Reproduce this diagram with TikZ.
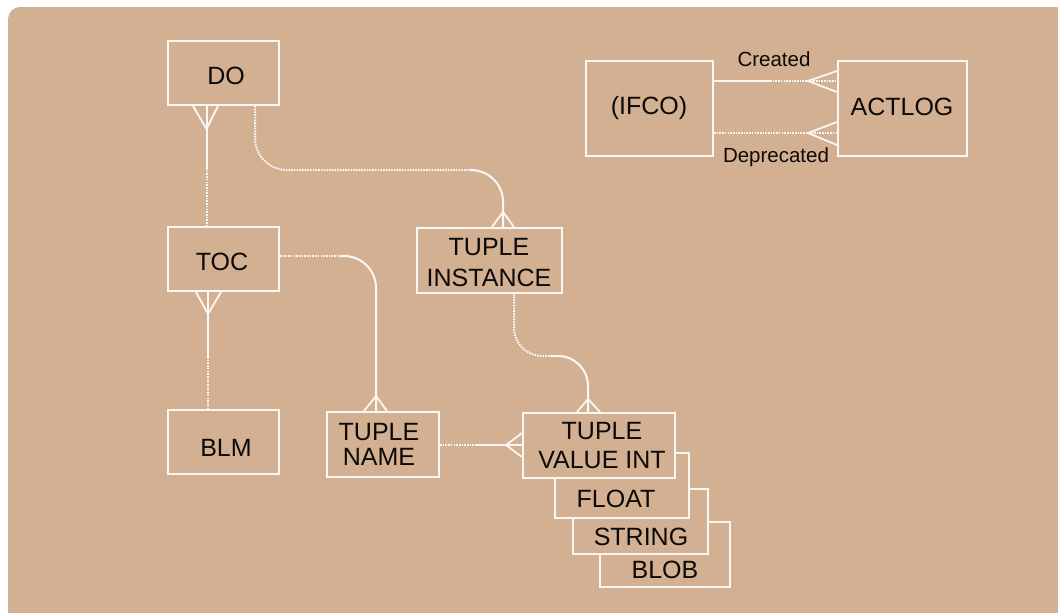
\documentclass[tikz,border=0pt]{standalone}
\usepackage{fontspec}
\setmainfont{Liberation Sans}
\usetikzlibrary{calc}
\definecolor{bgtan}{RGB}{212,176,147}
\definecolor{lineW}{RGB}{250,248,244}
\definecolor{ink}{RGB}{12,10,8}
\begin{document}
\begin{tikzpicture}[x=1pt,y=-1pt,
  box/.style={draw=lineW, line width=2pt, fill=bgtan, inner sep=0pt, rectangle},
  lbl/.style={text=ink, font=\fontsize{25}{29}\selectfont, inner sep=0pt, align=center},
  small/.style={text=ink, font=\fontsize{20.5}{24}\selectfont, inner sep=0pt},
  solidc/.style={draw=lineW, line width=2pt},
  dotc/.style={draw=lineW, line width=2pt, dash pattern=on 1.6pt off 1.1pt},
  crow/.style={draw=lineW, line width=1.8pt, line join=miter}]
\useasboundingbox (0,0) rectangle (1058,613);
\fill[bgtan, rounded corners=12pt] (8,7) rectangle (1075,630);

% boxes
\node[box, minimum width=111pt, minimum height=64pt] (DO) at (223.5,73) {};
\node[box, minimum width=111pt, minimum height=64pt] (TOC) at (223.5,259) {};
\node[box, minimum width=111pt, minimum height=64pt] (BLM) at (223.5,442) {};
\node[box, minimum width=145pt, minimum height=65pt] (TI) at (489.5,260.5) {};
\node[box, minimum width=112pt, minimum height=65pt] (TN) at (383,444.5) {};
\node[box, minimum width=127pt, minimum height=95pt] (IFCO) at (649.5,108.5) {};
\node[box, minimum width=129pt, minimum height=95pt] (ACT) at (902.5,108.5) {};
\node[box, minimum width=130pt, minimum height=65pt] (BLOB) at (665,554.5) {};
\node[box, minimum width=135pt, minimum height=65pt] (STR) at (640.5,521.5) {};
\node[box, minimum width=134pt, minimum height=65pt] (FLT) at (622,485.5) {};
\node[box, minimum width=152pt, minimum height=65pt] (TVI) at (599,445.5) {};

% texts
\node[lbl] (DOt) at (226,76) {DO};
\node[lbl] (TOCt) at (222,262) {TOC};
\node[lbl] (BLMt) at (226,448) {BLM};
\node[lbl, font=\fontsize{25}{31}\selectfont] (TIt) at (489,262.5) {TUPLE\\INSTANCE};
\node[lbl, font=\fontsize{25}{25}\selectfont] (TNt) at (379,444.5) {TUPLE\\NAME};
\node[lbl] (TVIt) at (602,445.5) {TUPLE\\VALUE INT};
\node[lbl] (FLTt) at (616,499) {FLOAT};
\node[lbl] (STRt) at (641,537) {STRING};
\node[lbl] (BLOBt) at (665,570) {BLOB};
\node[lbl] (IFCOt) at (649,108) {(IFCO)};
\node[lbl] (ACTt) at (902,107) {ACTLOG};

% DO -- TOC
\coordinate (c1) at (207,168);
\draw[solidc] ($(DO.south)+(-16.5,0)$) -- (c1);
\draw[dotc] (c1) -- ($(TOC.north)+(-16.5,0)$);
\draw[crow] ($(DO.south)+(-30.5,0)$) -- ($(DO.south)+(-17,23)$) -- ($(DO.south)+(-5.5,0)$);

% TOC -- BLM
\coordinate (c2) at (208,357);
\draw[solidc] ($(TOC.south)+(-15.5,0)$) -- (c2);
\draw[dotc] (c2) -- ($(BLM.north)+(-15.5,0)$);
\draw[crow] ($(TOC.south)+(-27.5,0)$) -- ($(TOC.south)+(-15.5,22)$) -- ($(TOC.south)+(-2.5,0)$);

% DO -- TUPLE INSTANCE
\coordinate (k1) at (470,170);
\draw[dotc, rounded corners=32pt] ($(DO.south)+(31.5,0)$) |- (k1);
\draw[solidc, rounded corners=32pt] (k1) -| ($(TI.north)+(13.5,0)$);
\draw[crow] ($(TI.north)+(2.5,0)$) -- ($(TI.north)+(13.5,-15)$) -- ($(TI.north)+(24.5,0)$);

% TOC -- TUPLE NAME
\coordinate (k2) at (340,256);
\draw[dotc] ($(TOC.east)+(0,-3)$) -- (k2);
\draw[solidc, rounded corners=32pt] (k2) -| ($(TN.north)+(-7,0)$);
\draw[crow] ($(TN.north)+(-19,0)$) -- ($(TN.north)+(-7,-15)$) -- ($(TN.north)+(4,0)$);

% TUPLE INSTANCE -- TUPLE VALUE INT
\coordinate (k3) at (550,356);
\draw[dotc, rounded corners=28pt] ($(TI.south)+(24.5,0)$) |- (k3);
\draw[solidc, rounded corners=30pt] (k3) -| ($(TVI.north)+(-11,0)$);
\draw[crow] ($(TVI.north)+(-22,0)$) -- ($(TVI.north)+(-11,-13)$) -- ($(TVI.north)+(1,0)$);

% TUPLE NAME -- TUPLE VALUE INT
\coordinate (k4) at (476,444.5);
\draw[dotc] (TN.east) -- (k4);
\draw[solidc] (k4) -- (TVI.west |- k4);
\draw[crow] ($(TVI.west)+(0,-12.5)$) -- ($(TVI.west)+(-16,-0.5)$) -- ($(TVI.west)+(0,11.5)$);

% IFCO -- ACTLOG (Created)
\coordinate (k5) at (770,81);
\draw[solidc] ($(IFCO.east)+(0,-27.5)$) -- (k5);
\draw[dotc] (k5) -- ($(ACT.west)+(0,-27.5)$);
\draw[crow] ($(ACT.west)+(0,-37.5)$) -- ($(ACT.west)+(-29,-27.5)$) -- ($(ACT.west)+(0,-16.5)$);
\node[small] (lc) at (774,59) {Created};

% IFCO -- ACTLOG (Deprecated)
\draw[dotc] ($(IFCO.east)+(0,24.5)$) -- ($(ACT.west)+(0,24.5)$);
\draw[crow] ($(ACT.west)+(0,13.5)$) -- ($(ACT.west)+(-29,24.5)$) -- ($(ACT.west)+(0,36.5)$);
\node[small] (ld) at (776,157) {Deprecated};
\end{tikzpicture}
\end{document}
